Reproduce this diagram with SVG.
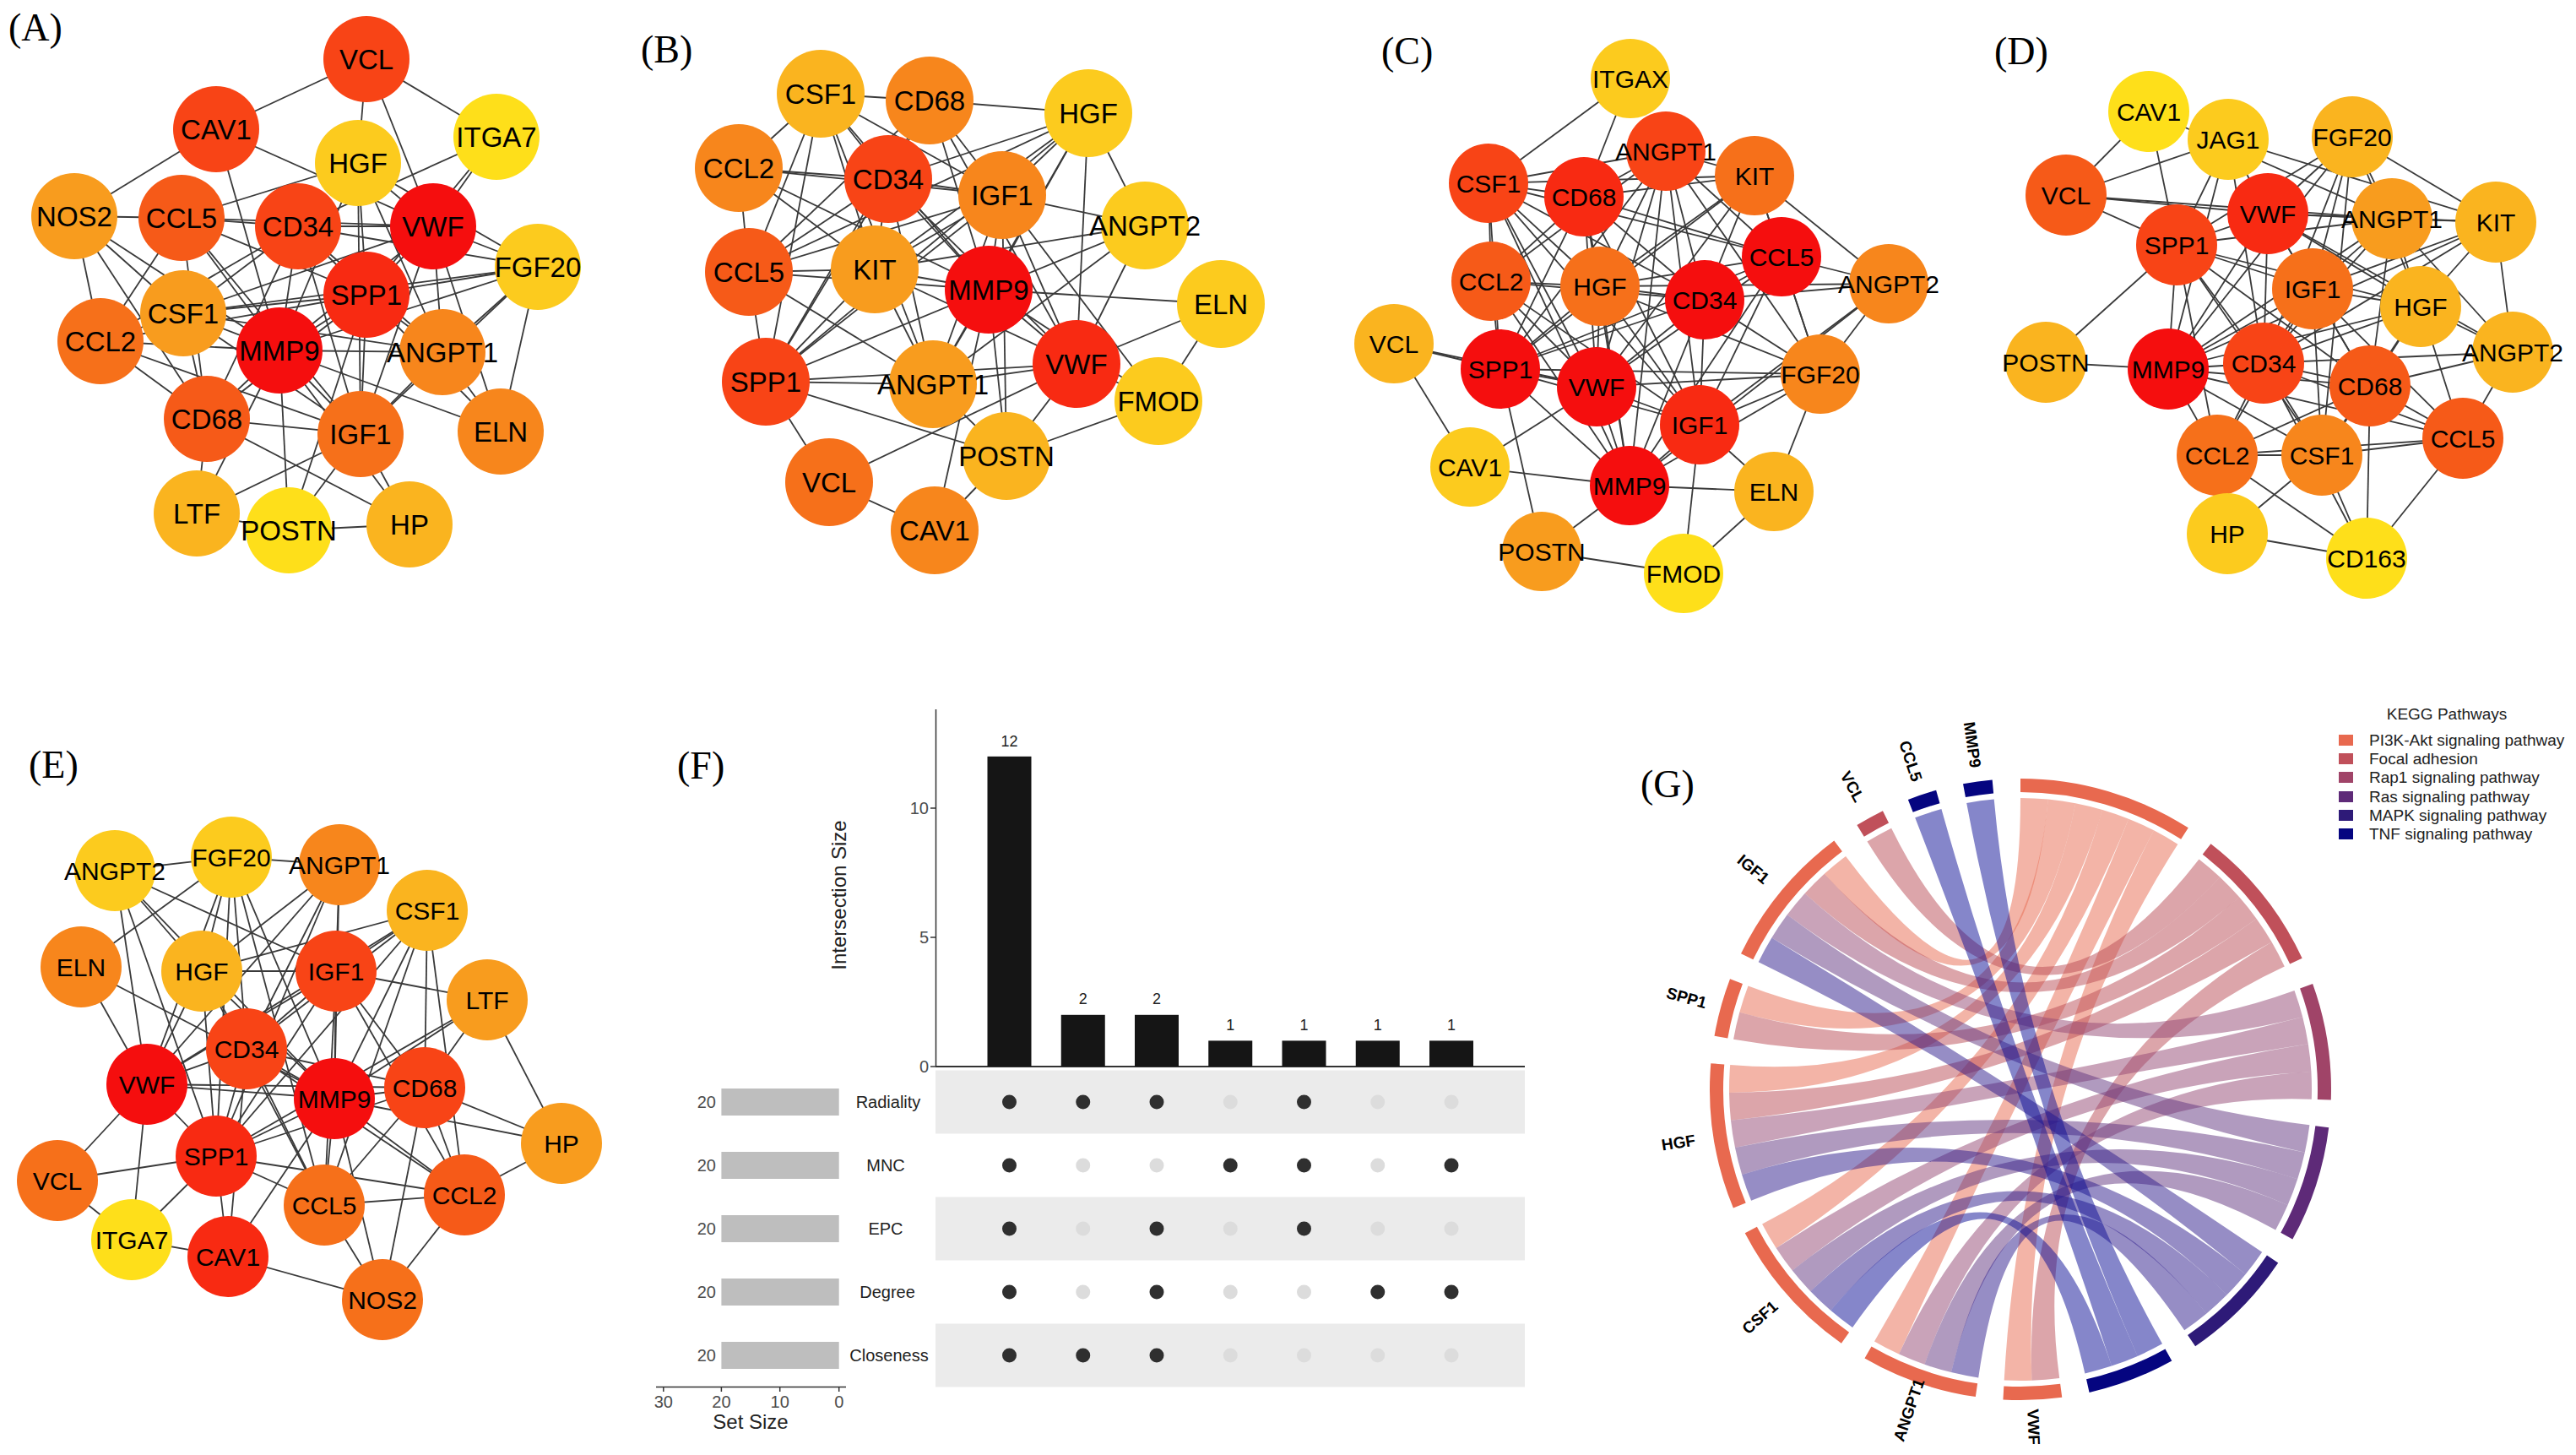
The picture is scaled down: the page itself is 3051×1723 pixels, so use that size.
<svg xmlns="http://www.w3.org/2000/svg" width="3051" height="1723" viewBox="0 0 3051 1723">
<style>
.pl{font-family:"Liberation Serif","Times New Roman",serif;font-size:46px;fill:#000}
.e line{stroke:#3a3a3a;stroke-width:1.8}
.t33{font-family:"Liberation Sans",Arial,sans-serif;font-size:33px;fill:#000;text-anchor:middle}
.t30{font-family:"Liberation Sans",Arial,sans-serif;font-size:30px;fill:#000;text-anchor:middle}
.c1{fill:#F50E0E}.c2{fill:#F82A12}.c3{fill:#F84416}.c4{fill:#F65A18}.c5{fill:#F6701A}.c6{fill:#F7861C}.c7{fill:#F89C1E}.c8{fill:#FAB41F}.c9{fill:#FCCB1E}.c10{fill:#FEDF1A}
.ax{font-family:"Liberation Sans",Arial,sans-serif;font-size:20px;fill:#4d4d4d}
.rl{font-family:"Liberation Sans",Arial,sans-serif;font-size:20px;fill:#222;text-anchor:middle}
.bl{font-family:"Liberation Sans",Arial,sans-serif;font-size:18px;fill:#222;text-anchor:middle}
.tt{font-family:"Liberation Sans",Arial,sans-serif;font-size:24px;fill:#222;text-anchor:middle}
.dk{fill:#2f2f2f}.lt{fill:#dcdcdc}
.gl{font-family:"Liberation Sans",Arial,sans-serif;font-size:19px;font-weight:bold;fill:#000;text-anchor:middle}
.lg{font-family:"Liberation Sans",Arial,sans-serif;font-size:19px;fill:#222}
.k1{fill:#E8694F}.k2{fill:#BA4C56}.k3{fill:#934773}.k4{fill:#61357F}.k5{fill:#2D1C8C}.k6{fill:#0B0E96}
.chords path{fill-opacity:0.5}
.trk path{fill:none;stroke-width:16}
.s1{stroke:#E8694F}.s2{stroke:#C0505A}.s3{stroke:#A04468}.s4{stroke:#5E2A78}.s5{stroke:#2E1A78}.s6{stroke:#050580}
</style>
<rect width="3051" height="1723" fill="#fff"/>

<!-- Panel labels -->
<text class="pl" x="10" y="48">(A)</text>
<text class="pl" x="759" y="74">(B)</text>
<text class="pl" x="1636" y="76">(C)</text>
<text class="pl" x="2362" y="76">(D)</text>
<text class="pl" x="34" y="921">(E)</text>
<text class="pl" x="802" y="922">(F)</text>
<text class="pl" x="1943" y="944">(G)</text>

<!-- ===== Panel A ===== -->
<g id="edges-A" class="e">
<line x1="434" y1="70" x2="256" y2="153"/><line x1="434" y1="70" x2="588" y2="162"/><line x1="434" y1="70" x2="424" y2="193"/><line x1="434" y1="70" x2="513" y2="268"/>
<line x1="256" y1="153" x2="88" y2="256"/><line x1="256" y1="153" x2="513" y2="268"/><line x1="256" y1="153" x2="331" y2="415"/>
<line x1="588" y1="162" x2="513" y2="268"/><line x1="588" y1="162" x2="353" y2="268"/><line x1="588" y1="162" x2="434" y2="349"/>
<line x1="424" y1="193" x2="215" y2="258"/><line x1="424" y1="193" x2="434" y2="349"/><line x1="424" y1="193" x2="331" y2="415"/><line x1="424" y1="193" x2="513" y2="268"/><line x1="424" y1="193" x2="524" y2="417"/><line x1="424" y1="193" x2="427" y2="514"/><line x1="424" y1="193" x2="637" y2="316"/>
<line x1="88" y1="256" x2="215" y2="258"/><line x1="88" y1="256" x2="119" y2="404"/><line x1="88" y1="256" x2="217" y2="371"/><line x1="88" y1="256" x2="331" y2="415"/><line x1="88" y1="256" x2="245" y2="496"/>
<line x1="215" y1="258" x2="353" y2="268"/><line x1="215" y1="258" x2="119" y2="404"/><line x1="215" y1="258" x2="331" y2="415"/><line x1="215" y1="258" x2="434" y2="349"/><line x1="215" y1="258" x2="245" y2="496"/><line x1="215" y1="258" x2="427" y2="514"/><line x1="215" y1="258" x2="513" y2="268"/>
<line x1="353" y1="268" x2="513" y2="268"/><line x1="353" y1="268" x2="434" y2="349"/><line x1="353" y1="268" x2="331" y2="415"/><line x1="353" y1="268" x2="217" y2="371"/><line x1="353" y1="268" x2="637" y2="316"/><line x1="353" y1="268" x2="524" y2="417"/><line x1="353" y1="268" x2="427" y2="514"/><line x1="353" y1="268" x2="245" y2="496"/><line x1="353" y1="268" x2="119" y2="404"/>
<line x1="513" y1="268" x2="434" y2="349"/><line x1="513" y1="268" x2="637" y2="316"/><line x1="513" y1="268" x2="524" y2="417"/><line x1="513" y1="268" x2="331" y2="415"/><line x1="513" y1="268" x2="427" y2="514"/><line x1="513" y1="268" x2="217" y2="371"/><line x1="513" y1="268" x2="593" y2="511"/>
<line x1="637" y1="316" x2="434" y2="349"/><line x1="637" y1="316" x2="524" y2="417"/><line x1="637" y1="316" x2="593" y2="511"/><line x1="637" y1="316" x2="331" y2="415"/><line x1="637" y1="316" x2="217" y2="371"/><line x1="637" y1="316" x2="427" y2="514"/>
<line x1="434" y1="349" x2="331" y2="415"/><line x1="434" y1="349" x2="217" y2="371"/><line x1="434" y1="349" x2="524" y2="417"/><line x1="434" y1="349" x2="427" y2="514"/><line x1="434" y1="349" x2="245" y2="496"/><line x1="434" y1="349" x2="119" y2="404"/><line x1="434" y1="349" x2="342" y2="628"/><line x1="434" y1="349" x2="593" y2="511"/>
<line x1="217" y1="371" x2="331" y2="415"/><line x1="217" y1="371" x2="119" y2="404"/><line x1="217" y1="371" x2="245" y2="496"/><line x1="217" y1="371" x2="427" y2="514"/><line x1="217" y1="371" x2="524" y2="417"/>
<line x1="119" y1="404" x2="331" y2="415"/><line x1="119" y1="404" x2="245" y2="496"/><line x1="119" y1="404" x2="427" y2="514"/>
<line x1="331" y1="415" x2="524" y2="417"/><line x1="331" y1="415" x2="245" y2="496"/><line x1="331" y1="415" x2="427" y2="514"/><line x1="331" y1="415" x2="233" y2="608"/><line x1="331" y1="415" x2="342" y2="628"/><line x1="331" y1="415" x2="485" y2="621"/><line x1="331" y1="415" x2="593" y2="511"/>
<line x1="524" y1="417" x2="427" y2="514"/><line x1="524" y1="417" x2="593" y2="511"/>
<line x1="245" y1="496" x2="427" y2="514"/><line x1="245" y1="496" x2="233" y2="608"/><line x1="245" y1="496" x2="485" y2="621"/>
<line x1="427" y1="514" x2="233" y2="608"/><line x1="427" y1="514" x2="342" y2="628"/><line x1="427" y1="514" x2="485" y2="621"/>
<line x1="233" y1="608" x2="342" y2="628"/><line x1="342" y1="628" x2="485" y2="621"/>
</g>
<g id="A-VCL"><circle class="c3" cx="434" cy="70" r="51"/><text class="t33" x="434" y="82">VCL</text></g>
<g id="A-CAV1"><circle class="c3" cx="256" cy="153" r="51"/><text class="t33" x="256" y="165">CAV1</text></g>
<g id="A-HGF"><circle class="c9" cx="424" cy="193" r="51"/><text class="t33" x="424" y="205">HGF</text></g>
<g id="A-ITGA7"><circle class="c10" cx="588" cy="162" r="51"/><text class="t33" x="588" y="174">ITGA7</text></g>
<g id="A-NOS2"><circle class="c7" cx="88" cy="256" r="51"/><text class="t33" x="88" y="268">NOS2</text></g>
<g id="A-CCL5"><circle class="c4" cx="215" cy="258" r="51"/><text class="t33" x="215" y="270">CCL5</text></g>
<g id="A-CD34"><circle class="c3" cx="353" cy="268" r="51"/><text class="t33" x="353" y="280">CD34</text></g>
<g id="A-VWF"><circle class="c1" cx="513" cy="268" r="51"/><text class="t33" x="513" y="280">VWF</text></g>
<g id="A-FGF20"><circle class="c9" cx="637" cy="316" r="51"/><text class="t33" x="637" y="328">FGF20</text></g>
<g id="A-SPP1"><circle class="c2" cx="434" cy="349" r="51"/><text class="t33" x="434" y="361">SPP1</text></g>
<g id="A-CSF1"><circle class="c7" cx="217" cy="371" r="51"/><text class="t33" x="217" y="383">CSF1</text></g>
<g id="A-CCL2"><circle class="c5" cx="119" cy="404" r="51"/><text class="t33" x="119" y="416">CCL2</text></g>
<g id="A-MMP9"><circle class="c1" cx="331" cy="415" r="51"/><text class="t33" x="331" y="427">MMP9</text></g>
<g id="A-ANGPT1"><circle class="c6" cx="524" cy="417" r="51"/><text class="t33" x="524" y="429">ANGPT1</text></g>
<g id="A-ELN"><circle class="c6" cx="593" cy="511" r="51"/><text class="t33" x="593" y="523">ELN</text></g>
<g id="A-CD68"><circle class="c4" cx="245" cy="496" r="51"/><text class="t33" x="245" y="508">CD68</text></g>
<g id="A-IGF1"><circle class="c5" cx="427" cy="514" r="51"/><text class="t33" x="427" y="526">IGF1</text></g>
<g id="A-LTF"><circle class="c8" cx="233" cy="608" r="51"/><text class="t33" x="233" y="620">LTF</text></g>
<g id="A-POSTN"><circle class="c10" cx="342" cy="628" r="51"/><text class="t33" x="342" y="640">POSTN</text></g>
<g id="A-HP"><circle class="c8" cx="485" cy="621" r="51"/><text class="t33" x="485" y="633">HP</text></g>

<!-- ===== Panel B ===== -->
<g id="edges-B" class="e">
<line x1="972" y1="111" x2="1101" y2="119"/><line x1="972" y1="111" x2="875" y2="199"/><line x1="972" y1="111" x2="1052" y2="212"/><line x1="972" y1="111" x2="1187" y2="231"/><line x1="972" y1="111" x2="887" y2="322"/><line x1="972" y1="111" x2="907" y2="452"/><line x1="972" y1="111" x2="1036" y2="319"/><line x1="972" y1="111" x2="1171" y2="343"/><line x1="972" y1="111" x2="1105" y2="455"/>
<line x1="1101" y1="119" x2="1289" y2="134"/><line x1="1101" y1="119" x2="1052" y2="212"/><line x1="1101" y1="119" x2="1187" y2="231"/><line x1="1101" y1="119" x2="1171" y2="343"/><line x1="1101" y1="119" x2="887" y2="322"/><line x1="1101" y1="119" x2="1275" y2="431"/><line x1="1101" y1="119" x2="907" y2="452"/>
<line x1="1289" y1="134" x2="1052" y2="212"/><line x1="1289" y1="134" x2="1187" y2="231"/><line x1="1289" y1="134" x2="1036" y2="319"/><line x1="1289" y1="134" x2="887" y2="322"/><line x1="1289" y1="134" x2="1171" y2="343"/><line x1="1289" y1="134" x2="1275" y2="431"/><line x1="1289" y1="134" x2="1356" y2="267"/><line x1="1289" y1="134" x2="907" y2="452"/><line x1="1289" y1="134" x2="1105" y2="455"/>
<line x1="875" y1="199" x2="1052" y2="212"/><line x1="875" y1="199" x2="1187" y2="231"/><line x1="875" y1="199" x2="887" y2="322"/><line x1="875" y1="199" x2="1171" y2="343"/><line x1="875" y1="199" x2="1036" y2="319"/>
<line x1="1052" y1="212" x2="1187" y2="231"/><line x1="1052" y1="212" x2="1171" y2="343"/><line x1="1052" y1="212" x2="1275" y2="431"/><line x1="1052" y1="212" x2="887" y2="322"/><line x1="1052" y1="212" x2="907" y2="452"/><line x1="1052" y1="212" x2="1036" y2="319"/><line x1="1052" y1="212" x2="1105" y2="455"/>
<line x1="1187" y1="231" x2="1356" y2="267"/><line x1="1187" y1="231" x2="1171" y2="343"/><line x1="1187" y1="231" x2="1275" y2="431"/><line x1="1187" y1="231" x2="1036" y2="319"/><line x1="1187" y1="231" x2="887" y2="322"/><line x1="1187" y1="231" x2="907" y2="452"/><line x1="1187" y1="231" x2="1105" y2="455"/><line x1="1187" y1="231" x2="1372" y2="475"/><line x1="1187" y1="231" x2="1192" y2="540"/>
<line x1="1356" y1="267" x2="1171" y2="343"/><line x1="1356" y1="267" x2="1275" y2="431"/><line x1="1356" y1="267" x2="1036" y2="319"/><line x1="1356" y1="267" x2="1105" y2="455"/>
<line x1="887" y1="322" x2="1036" y2="319"/><line x1="887" y1="322" x2="907" y2="452"/><line x1="887" y1="322" x2="1171" y2="343"/><line x1="887" y1="322" x2="1105" y2="455"/>
<line x1="1036" y1="319" x2="1171" y2="343"/><line x1="1036" y1="319" x2="907" y2="452"/><line x1="1036" y1="319" x2="1105" y2="455"/><line x1="1036" y1="319" x2="1275" y2="431"/>
<line x1="1171" y1="343" x2="1275" y2="431"/><line x1="1171" y1="343" x2="907" y2="452"/><line x1="1171" y1="343" x2="1105" y2="455"/><line x1="1171" y1="343" x2="1446" y2="360"/><line x1="1171" y1="343" x2="1192" y2="540"/><line x1="1171" y1="343" x2="1107" y2="628"/><line x1="1171" y1="343" x2="1372" y2="475"/>
<line x1="1446" y1="360" x2="1275" y2="431"/><line x1="1446" y1="360" x2="1372" y2="475"/>
<line x1="907" y1="452" x2="1105" y2="455"/><line x1="907" y1="452" x2="1275" y2="431"/><line x1="907" y1="452" x2="982" y2="571"/><line x1="907" y1="452" x2="1192" y2="540"/>
<line x1="1105" y1="455" x2="1275" y2="431"/><line x1="1105" y1="455" x2="1192" y2="540"/>
<line x1="1275" y1="431" x2="1192" y2="540"/><line x1="1275" y1="431" x2="1372" y2="475"/><line x1="1275" y1="431" x2="982" y2="571"/>
<line x1="1372" y1="475" x2="1192" y2="540"/><line x1="982" y1="571" x2="1107" y2="628"/><line x1="1107" y1="628" x2="1192" y2="540"/>
</g>
<g id="B-CSF1"><circle class="c8" cx="972" cy="111" r="52"/><text class="t33" x="972" y="123">CSF1</text></g>
<g id="B-CD68"><circle class="c6" cx="1101" cy="119" r="52"/><text class="t33" x="1101" y="131">CD68</text></g>
<g id="B-HGF"><circle class="c9" cx="1289" cy="134" r="52"/><text class="t33" x="1289" y="146">HGF</text></g>
<g id="B-CCL2"><circle class="c6" cx="875" cy="199" r="52"/><text class="t33" x="875" y="211">CCL2</text></g>
<g id="B-CD34"><circle class="c3" cx="1052" cy="212" r="52"/><text class="t33" x="1052" y="224">CD34</text></g>
<g id="B-IGF1"><circle class="c6" cx="1187" cy="231" r="52"/><text class="t33" x="1187" y="243">IGF1</text></g>
<g id="B-ANGPT2"><circle class="c9" cx="1356" cy="267" r="52"/><text class="t33" x="1356" y="279">ANGPT2</text></g>
<g id="B-CCL5"><circle class="c4" cx="887" cy="322" r="52"/><text class="t33" x="887" y="334">CCL5</text></g>
<g id="B-KIT"><circle class="c7" cx="1036" cy="319" r="52"/><text class="t33" x="1036" y="331">KIT</text></g>
<g id="B-MMP9"><circle class="c1" cx="1171" cy="343" r="52"/><text class="t33" x="1171" y="355">MMP9</text></g>
<g id="B-ELN"><circle class="c9" cx="1446" cy="360" r="52"/><text class="t33" x="1446" y="372">ELN</text></g>
<g id="B-SPP1"><circle class="c3" cx="907" cy="452" r="52"/><text class="t33" x="907" y="464">SPP1</text></g>
<g id="B-ANGPT1"><circle class="c7" cx="1105" cy="455" r="52"/><text class="t33" x="1105" y="467">ANGPT1</text></g>
<g id="B-VWF"><circle class="c2" cx="1275" cy="431" r="52"/><text class="t33" x="1275" y="443">VWF</text></g>
<g id="B-FMOD"><circle class="c9" cx="1372" cy="475" r="52"/><text class="t33" x="1372" y="487">FMOD</text></g>
<g id="B-POSTN"><circle class="c8" cx="1192" cy="540" r="52"/><text class="t33" x="1192" y="552">POSTN</text></g>
<g id="B-VCL"><circle class="c5" cx="982" cy="571" r="52"/><text class="t33" x="982" y="583">VCL</text></g>
<g id="B-CAV1"><circle class="c6" cx="1107" cy="628" r="52"/><text class="t33" x="1107" y="640">CAV1</text></g>

<!-- ===== Panel C ===== -->
<g id="edges-C" class="e">
<line x1="1931" y1="93" x2="1763" y2="217"/><line x1="1931" y1="93" x2="1876" y2="233"/>
<line x1="1973" y1="179" x2="2078" y2="208"/><line x1="1973" y1="179" x2="1763" y2="217"/><line x1="1973" y1="179" x2="1876" y2="233"/><line x1="1973" y1="179" x2="1895" y2="339"/><line x1="1973" y1="179" x2="2019" y2="355"/><line x1="1973" y1="179" x2="2110" y2="304"/><line x1="1973" y1="179" x2="1777" y2="437"/><line x1="1973" y1="179" x2="1891" y2="458"/><line x1="1973" y1="179" x2="2013" y2="503"/><line x1="1973" y1="179" x2="1930" y2="575"/><line x1="1973" y1="179" x2="1766" y2="333"/><line x1="1973" y1="179" x2="2156" y2="443"/>
<line x1="2078" y1="208" x2="1876" y2="233"/><line x1="2078" y1="208" x2="1763" y2="217"/><line x1="2078" y1="208" x2="2110" y2="304"/><line x1="2078" y1="208" x2="2237" y2="336"/><line x1="2078" y1="208" x2="2019" y2="355"/><line x1="2078" y1="208" x2="1895" y2="339"/><line x1="2078" y1="208" x2="1891" y2="458"/><line x1="2078" y1="208" x2="2156" y2="443"/><line x1="2078" y1="208" x2="1777" y2="437"/>
<line x1="1763" y1="217" x2="1876" y2="233"/><line x1="1763" y1="217" x2="1766" y2="333"/><line x1="1763" y1="217" x2="1895" y2="339"/><line x1="1763" y1="217" x2="2019" y2="355"/><line x1="1763" y1="217" x2="1777" y2="437"/><line x1="1763" y1="217" x2="1891" y2="458"/><line x1="1763" y1="217" x2="1930" y2="575"/><line x1="1763" y1="217" x2="2013" y2="503"/><line x1="1763" y1="217" x2="2110" y2="304"/>
<line x1="1876" y1="233" x2="1895" y2="339"/><line x1="1876" y1="233" x2="2019" y2="355"/><line x1="1876" y1="233" x2="2110" y2="304"/><line x1="1876" y1="233" x2="1766" y2="333"/><line x1="1876" y1="233" x2="1777" y2="437"/><line x1="1876" y1="233" x2="1891" y2="458"/><line x1="1876" y1="233" x2="1930" y2="575"/><line x1="1876" y1="233" x2="2013" y2="503"/>
<line x1="2110" y1="304" x2="2019" y2="355"/><line x1="2110" y1="304" x2="2237" y2="336"/><line x1="2110" y1="304" x2="1895" y2="339"/><line x1="2110" y1="304" x2="2013" y2="503"/><line x1="2110" y1="304" x2="1930" y2="575"/><line x1="2110" y1="304" x2="2156" y2="443"/><line x1="2110" y1="304" x2="1777" y2="437"/><line x1="2110" y1="304" x2="1891" y2="458"/>
<line x1="2237" y1="336" x2="2019" y2="355"/><line x1="2237" y1="336" x2="2156" y2="443"/><line x1="2237" y1="336" x2="2013" y2="503"/><line x1="2237" y1="336" x2="1930" y2="575"/><line x1="2237" y1="336" x2="1895" y2="339"/>
<line x1="1766" y1="333" x2="1895" y2="339"/><line x1="1766" y1="333" x2="2019" y2="355"/><line x1="1766" y1="333" x2="1777" y2="437"/><line x1="1766" y1="333" x2="1891" y2="458"/><line x1="1766" y1="333" x2="1930" y2="575"/><line x1="1766" y1="333" x2="2013" y2="503"/>
<line x1="1895" y1="339" x2="2019" y2="355"/><line x1="1895" y1="339" x2="1777" y2="437"/><line x1="1895" y1="339" x2="1891" y2="458"/><line x1="1895" y1="339" x2="1930" y2="575"/><line x1="1895" y1="339" x2="2013" y2="503"/><line x1="1895" y1="339" x2="2156" y2="443"/>
<line x1="2019" y1="355" x2="1777" y2="437"/><line x1="2019" y1="355" x2="1891" y2="458"/><line x1="2019" y1="355" x2="1930" y2="575"/><line x1="2019" y1="355" x2="2013" y2="503"/><line x1="2019" y1="355" x2="2156" y2="443"/>
<line x1="1651" y1="407" x2="1777" y2="437"/><line x1="1651" y1="407" x2="1741" y2="553"/><line x1="1651" y1="407" x2="1891" y2="458"/>
<line x1="1777" y1="437" x2="1891" y2="458"/><line x1="1777" y1="437" x2="1930" y2="575"/><line x1="1777" y1="437" x2="2013" y2="503"/><line x1="1777" y1="437" x2="2156" y2="443"/><line x1="1777" y1="437" x2="1826" y2="653"/>
<line x1="1891" y1="458" x2="1930" y2="575"/><line x1="1891" y1="458" x2="2013" y2="503"/><line x1="1891" y1="458" x2="2156" y2="443"/><line x1="1891" y1="458" x2="1741" y2="553"/>
<line x1="2156" y1="443" x2="2013" y2="503"/><line x1="2156" y1="443" x2="1930" y2="575"/><line x1="2156" y1="443" x2="2101" y2="582"/>
<line x1="2013" y1="503" x2="1930" y2="575"/><line x1="2013" y1="503" x2="2101" y2="582"/><line x1="2013" y1="503" x2="1994" y2="679"/>
<line x1="1741" y1="553" x2="1930" y2="575"/><line x1="1930" y1="575" x2="2101" y2="582"/><line x1="1930" y1="575" x2="1826" y2="653"/>
<line x1="2101" y1="582" x2="1994" y2="679"/><line x1="1826" y1="653" x2="1994" y2="679"/>
</g>
<g id="C-ITGAX"><circle class="c9" cx="1931" cy="93" r="47"/><text class="t30" x="1931" y="104">ITGAX</text></g>
<g id="C-ANGPT1"><circle class="c3" cx="1973" cy="179" r="47"/><text class="t30" x="1973" y="190">ANGPT1</text></g>
<g id="C-KIT"><circle class="c5" cx="2078" cy="208" r="47"/><text class="t30" x="2078" y="219">KIT</text></g>
<g id="C-CSF1"><circle class="c3" cx="1763" cy="217" r="47"/><text class="t30" x="1763" y="228">CSF1</text></g>
<g id="C-CD68"><circle class="c2" cx="1876" cy="233" r="47"/><text class="t30" x="1876" y="244">CD68</text></g>
<g id="C-CCL5"><circle class="c1" cx="2110" cy="304" r="47"/><text class="t30" x="2110" y="315">CCL5</text></g>
<g id="C-ANGPT2"><circle class="c6" cx="2237" cy="336" r="47"/><text class="t30" x="2237" y="347">ANGPT2</text></g>
<g id="C-CCL2"><circle class="c4" cx="1766" cy="333" r="47"/><text class="t30" x="1766" y="344">CCL2</text></g>
<g id="C-HGF"><circle class="c5" cx="1895" cy="339" r="47"/><text class="t30" x="1895" y="350">HGF</text></g>
<g id="C-CD34"><circle class="c1" cx="2019" cy="355" r="47"/><text class="t30" x="2019" y="366">CD34</text></g>
<g id="C-VCL"><circle class="c8" cx="1651" cy="407" r="47"/><text class="t30" x="1651" y="418">VCL</text></g>
<g id="C-SPP1"><circle class="c1" cx="1777" cy="437" r="47"/><text class="t30" x="1777" y="448">SPP1</text></g>
<g id="C-VWF"><circle class="c1" cx="1891" cy="458" r="47"/><text class="t30" x="1891" y="469">VWF</text></g>
<g id="C-FGF20"><circle class="c6" cx="2156" cy="443" r="47"/><text class="t30" x="2156" y="454">FGF20</text></g>
<g id="C-IGF1"><circle class="c2" cx="2013" cy="503" r="47"/><text class="t30" x="2013" y="514">IGF1</text></g>
<g id="C-CAV1"><circle class="c9" cx="1741" cy="553" r="47"/><text class="t30" x="1741" y="564">CAV1</text></g>
<g id="C-MMP9"><circle class="c1" cx="1930" cy="575" r="47"/><text class="t30" x="1930" y="586">MMP9</text></g>
<g id="C-ELN"><circle class="c8" cx="2101" cy="582" r="47"/><text class="t30" x="2101" y="593">ELN</text></g>
<g id="C-POSTN"><circle class="c7" cx="1826" cy="653" r="47"/><text class="t30" x="1826" y="664">POSTN</text></g>
<g id="C-FMOD"><circle class="c10" cx="1994" cy="679" r="47"/><text class="t30" x="1994" y="690">FMOD</text></g>

<!-- ===== Panel D ===== -->
<g id="edges-D" class="e">
<line x1="2545" y1="132" x2="2447" y2="231"/><line x1="2545" y1="132" x2="2578" y2="290"/><line x1="2545" y1="132" x2="2833" y2="259"/>
<line x1="2639" y1="165" x2="2447" y2="231"/><line x1="2639" y1="165" x2="2578" y2="290"/><line x1="2639" y1="165" x2="2568" y2="437"/><line x1="2639" y1="165" x2="2686" y2="253"/><line x1="2639" y1="165" x2="2956" y2="263"/><line x1="2639" y1="165" x2="2681" y2="430"/>
<line x1="2786" y1="162" x2="2686" y2="253"/><line x1="2786" y1="162" x2="2578" y2="290"/><line x1="2786" y1="162" x2="2833" y2="259"/><line x1="2786" y1="162" x2="2956" y2="263"/><line x1="2786" y1="162" x2="2739" y2="342"/><line x1="2786" y1="162" x2="2568" y2="437"/><line x1="2786" y1="162" x2="2681" y2="430"/><line x1="2786" y1="162" x2="2750" y2="539"/><line x1="2786" y1="162" x2="2867" y2="363"/>
<line x1="2447" y1="231" x2="2686" y2="253"/><line x1="2447" y1="231" x2="2578" y2="290"/><line x1="2447" y1="231" x2="2833" y2="259"/>
<line x1="2686" y1="253" x2="2578" y2="290"/><line x1="2686" y1="253" x2="2833" y2="259"/><line x1="2686" y1="253" x2="2739" y2="342"/><line x1="2686" y1="253" x2="2568" y2="437"/><line x1="2686" y1="253" x2="2681" y2="430"/><line x1="2686" y1="253" x2="2867" y2="363"/><line x1="2686" y1="253" x2="2976" y2="417"/><line x1="2686" y1="253" x2="2807" y2="457"/><line x1="2686" y1="253" x2="2956" y2="263"/>
<line x1="2833" y1="259" x2="2956" y2="263"/><line x1="2833" y1="259" x2="2739" y2="342"/><line x1="2833" y1="259" x2="2867" y2="363"/><line x1="2833" y1="259" x2="2976" y2="417"/><line x1="2833" y1="259" x2="2681" y2="430"/><line x1="2833" y1="259" x2="2568" y2="437"/><line x1="2833" y1="259" x2="2578" y2="290"/><line x1="2833" y1="259" x2="2807" y2="457"/>
<line x1="2956" y1="263" x2="2867" y2="363"/><line x1="2956" y1="263" x2="2976" y2="417"/><line x1="2956" y1="263" x2="2681" y2="430"/><line x1="2956" y1="263" x2="2568" y2="437"/><line x1="2956" y1="263" x2="2739" y2="342"/>
<line x1="2578" y1="290" x2="2568" y2="437"/><line x1="2578" y1="290" x2="2739" y2="342"/><line x1="2578" y1="290" x2="2681" y2="430"/><line x1="2578" y1="290" x2="2867" y2="363"/><line x1="2578" y1="290" x2="2807" y2="457"/><line x1="2578" y1="290" x2="2423" y2="429"/><line x1="2578" y1="290" x2="2626" y2="539"/><line x1="2578" y1="290" x2="2750" y2="539"/>
<line x1="2739" y1="342" x2="2867" y2="363"/><line x1="2739" y1="342" x2="2568" y2="437"/><line x1="2739" y1="342" x2="2681" y2="430"/><line x1="2739" y1="342" x2="2807" y2="457"/><line x1="2739" y1="342" x2="2750" y2="539"/><line x1="2739" y1="342" x2="2917" y2="519"/><line x1="2739" y1="342" x2="2626" y2="539"/>
<line x1="2867" y1="363" x2="2976" y2="417"/><line x1="2867" y1="363" x2="2681" y2="430"/><line x1="2867" y1="363" x2="2568" y2="437"/><line x1="2867" y1="363" x2="2807" y2="457"/><line x1="2867" y1="363" x2="2917" y2="519"/><line x1="2867" y1="363" x2="2750" y2="539"/>
<line x1="2976" y1="417" x2="2807" y2="457"/><line x1="2976" y1="417" x2="2917" y2="519"/><line x1="2976" y1="417" x2="2681" y2="430"/>
<line x1="2423" y1="429" x2="2568" y2="437"/>
<line x1="2568" y1="437" x2="2681" y2="430"/><line x1="2568" y1="437" x2="2807" y2="457"/><line x1="2568" y1="437" x2="2626" y2="539"/><line x1="2568" y1="437" x2="2750" y2="539"/><line x1="2568" y1="437" x2="2917" y2="519"/>
<line x1="2681" y1="430" x2="2807" y2="457"/><line x1="2681" y1="430" x2="2626" y2="539"/><line x1="2681" y1="430" x2="2750" y2="539"/><line x1="2681" y1="430" x2="2917" y2="519"/><line x1="2681" y1="430" x2="2803" y2="661"/>
<line x1="2807" y1="457" x2="2917" y2="519"/><line x1="2807" y1="457" x2="2750" y2="539"/><line x1="2807" y1="457" x2="2626" y2="539"/><line x1="2807" y1="457" x2="2803" y2="661"/>
<line x1="2917" y1="519" x2="2750" y2="539"/><line x1="2917" y1="519" x2="2803" y2="661"/><line x1="2917" y1="519" x2="2626" y2="539"/>
<line x1="2626" y1="539" x2="2750" y2="539"/><line x1="2626" y1="539" x2="2803" y2="661"/>
<line x1="2750" y1="539" x2="2638" y2="632"/><line x1="2750" y1="539" x2="2803" y2="661"/><line x1="2638" y1="632" x2="2803" y2="661"/>
</g>
<g id="D-CAV1"><circle class="c10" cx="2545" cy="132" r="48"/><text class="t30" x="2545" y="143">CAV1</text></g>
<g id="D-JAG1"><circle class="c9" cx="2639" cy="165" r="48"/><text class="t30" x="2639" y="176">JAG1</text></g>
<g id="D-FGF20"><circle class="c8" cx="2786" cy="162" r="48"/><text class="t30" x="2786" y="173">FGF20</text></g>
<g id="D-VCL"><circle class="c4" cx="2447" cy="231" r="48"/><text class="t30" x="2447" y="242">VCL</text></g>
<g id="D-VWF"><circle class="c2" cx="2686" cy="253" r="48"/><text class="t30" x="2686" y="264">VWF</text></g>
<g id="D-ANGPT1"><circle class="c7" cx="2833" cy="259" r="48"/><text class="t30" x="2833" y="270">ANGPT1</text></g>
<g id="D-KIT"><circle class="c8" cx="2956" cy="263" r="48"/><text class="t30" x="2956" y="274">KIT</text></g>
<g id="D-SPP1"><circle class="c3" cx="2578" cy="290" r="48"/><text class="t30" x="2578" y="301">SPP1</text></g>
<g id="D-IGF1"><circle class="c5" cx="2739" cy="342" r="48"/><text class="t30" x="2739" y="353">IGF1</text></g>
<g id="D-HGF"><circle class="c8" cx="2867" cy="363" r="48"/><text class="t30" x="2867" y="374">HGF</text></g>
<g id="D-ANGPT2"><circle class="c8" cx="2976" cy="417" r="48"/><text class="t30" x="2976" y="428">ANGPT2</text></g>
<g id="D-POSTN"><circle class="c8" cx="2423" cy="429" r="48"/><text class="t30" x="2423" y="440">POSTN</text></g>
<g id="D-MMP9"><circle class="c1" cx="2568" cy="437" r="48"/><text class="t30" x="2568" y="448">MMP9</text></g>
<g id="D-CD34"><circle class="c3" cx="2681" cy="430" r="48"/><text class="t30" x="2681" y="441">CD34</text></g>
<g id="D-CD68"><circle class="c4" cx="2807" cy="457" r="48"/><text class="t30" x="2807" y="468">CD68</text></g>
<g id="D-CCL5"><circle class="c4" cx="2917" cy="519" r="48"/><text class="t30" x="2917" y="530">CCL5</text></g>
<g id="D-CCL2"><circle class="c5" cx="2626" cy="539" r="48"/><text class="t30" x="2626" y="550">CCL2</text></g>
<g id="D-CSF1"><circle class="c6" cx="2750" cy="539" r="48"/><text class="t30" x="2750" y="550">CSF1</text></g>
<g id="D-HP"><circle class="c9" cx="2638" cy="632" r="48"/><text class="t30" x="2638" y="643">HP</text></g>
<g id="D-CD163"><circle class="c10" cx="2803" cy="661" r="48"/><text class="t30" x="2803" y="672">CD163</text></g>

<!-- ===== Panel E ===== -->
<g id="edges-E" class="e">
<line x1="136" y1="1031" x2="274" y2="1015"/><line x1="136" y1="1031" x2="239" y2="1150"/><line x1="136" y1="1031" x2="174" y2="1284"/><line x1="136" y1="1031" x2="398" y2="1150"/><line x1="136" y1="1031" x2="256" y2="1369"/><line x1="136" y1="1031" x2="396" y2="1301"/>
<line x1="274" y1="1015" x2="402" y2="1024"/><line x1="274" y1="1015" x2="239" y2="1150"/><line x1="274" y1="1015" x2="96" y2="1145"/><line x1="274" y1="1015" x2="292" y2="1242"/><line x1="274" y1="1015" x2="256" y2="1369"/><line x1="274" y1="1015" x2="396" y2="1301"/><line x1="274" y1="1015" x2="174" y2="1284"/><line x1="274" y1="1015" x2="384" y2="1427"/>
<line x1="402" y1="1024" x2="398" y2="1150"/><line x1="402" y1="1024" x2="239" y2="1150"/><line x1="402" y1="1024" x2="174" y2="1284"/><line x1="402" y1="1024" x2="292" y2="1242"/><line x1="402" y1="1024" x2="256" y2="1369"/><line x1="402" y1="1024" x2="396" y2="1301"/>
<line x1="506" y1="1078" x2="398" y2="1150"/><line x1="506" y1="1078" x2="239" y2="1150"/><line x1="506" y1="1078" x2="292" y2="1242"/><line x1="506" y1="1078" x2="396" y2="1301"/><line x1="506" y1="1078" x2="174" y2="1284"/><line x1="506" y1="1078" x2="256" y2="1369"/><line x1="506" y1="1078" x2="503" y2="1288"/><line x1="506" y1="1078" x2="550" y2="1415"/><line x1="506" y1="1078" x2="384" y2="1427"/>
<line x1="96" y1="1145" x2="174" y2="1284"/><line x1="96" y1="1145" x2="396" y2="1301"/>
<line x1="239" y1="1150" x2="398" y2="1150"/><line x1="239" y1="1150" x2="292" y2="1242"/><line x1="239" y1="1150" x2="174" y2="1284"/><line x1="239" y1="1150" x2="256" y2="1369"/><line x1="239" y1="1150" x2="396" y2="1301"/><line x1="239" y1="1150" x2="384" y2="1427"/>
<line x1="398" y1="1150" x2="577" y2="1184"/><line x1="398" y1="1150" x2="292" y2="1242"/><line x1="398" y1="1150" x2="396" y2="1301"/><line x1="398" y1="1150" x2="174" y2="1284"/><line x1="398" y1="1150" x2="256" y2="1369"/><line x1="398" y1="1150" x2="503" y2="1288"/><line x1="398" y1="1150" x2="550" y2="1415"/><line x1="398" y1="1150" x2="384" y2="1427"/>
<line x1="577" y1="1184" x2="396" y2="1301"/><line x1="577" y1="1184" x2="665" y2="1354"/><line x1="577" y1="1184" x2="256" y2="1369"/><line x1="577" y1="1184" x2="503" y2="1288"/>
<line x1="292" y1="1242" x2="174" y2="1284"/><line x1="292" y1="1242" x2="396" y2="1301"/><line x1="292" y1="1242" x2="256" y2="1369"/><line x1="292" y1="1242" x2="503" y2="1288"/><line x1="292" y1="1242" x2="270" y2="1488"/><line x1="292" y1="1242" x2="550" y2="1415"/><line x1="292" y1="1242" x2="384" y2="1427"/>
<line x1="174" y1="1284" x2="396" y2="1301"/><line x1="174" y1="1284" x2="256" y2="1369"/><line x1="174" y1="1284" x2="68" y2="1398"/><line x1="174" y1="1284" x2="156" y2="1468"/><line x1="174" y1="1284" x2="503" y2="1288"/>
<line x1="396" y1="1301" x2="503" y2="1288"/><line x1="396" y1="1301" x2="256" y2="1369"/><line x1="396" y1="1301" x2="384" y2="1427"/><line x1="396" y1="1301" x2="550" y2="1415"/><line x1="396" y1="1301" x2="270" y2="1488"/><line x1="396" y1="1301" x2="453" y2="1539"/><line x1="396" y1="1301" x2="665" y2="1354"/>
<line x1="503" y1="1288" x2="665" y2="1354"/><line x1="503" y1="1288" x2="550" y2="1415"/><line x1="503" y1="1288" x2="384" y2="1427"/><line x1="503" y1="1288" x2="453" y2="1539"/><line x1="503" y1="1288" x2="256" y2="1369"/>
<line x1="256" y1="1369" x2="68" y2="1398"/><line x1="256" y1="1369" x2="156" y2="1468"/><line x1="256" y1="1369" x2="270" y2="1488"/><line x1="256" y1="1369" x2="384" y2="1427"/><line x1="256" y1="1369" x2="550" y2="1415"/>
<line x1="68" y1="1398" x2="156" y2="1468"/><line x1="384" y1="1427" x2="550" y2="1415"/><line x1="384" y1="1427" x2="453" y2="1539"/><line x1="550" y1="1415" x2="453" y2="1539"/><line x1="550" y1="1415" x2="665" y2="1354"/><line x1="156" y1="1468" x2="270" y2="1488"/><line x1="270" y1="1488" x2="453" y2="1539"/>
</g>
<g id="E-ANGPT2"><circle class="c9" cx="136" cy="1031" r="48"/><text class="t30" x="136" y="1042">ANGPT2</text></g>
<g id="E-FGF20"><circle class="c9" cx="274" cy="1015" r="48"/><text class="t30" x="274" y="1026">FGF20</text></g>
<g id="E-ANGPT1"><circle class="c6" cx="402" cy="1024" r="48"/><text class="t30" x="402" y="1035">ANGPT1</text></g>
<g id="E-CSF1"><circle class="c8" cx="506" cy="1078" r="48"/><text class="t30" x="506" y="1089">CSF1</text></g>
<g id="E-ELN"><circle class="c6" cx="96" cy="1145" r="48"/><text class="t30" x="96" y="1156">ELN</text></g>
<g id="E-HGF"><circle class="c8" cx="239" cy="1150" r="48"/><text class="t30" x="239" y="1161">HGF</text></g>
<g id="E-IGF1"><circle class="c3" cx="398" cy="1150" r="48"/><text class="t30" x="398" y="1161">IGF1</text></g>
<g id="E-LTF"><circle class="c7" cx="577" cy="1184" r="48"/><text class="t30" x="577" y="1195">LTF</text></g>
<g id="E-CD34"><circle class="c3" cx="292" cy="1242" r="48"/><text class="t30" x="292" y="1253">CD34</text></g>
<g id="E-VWF"><circle class="c1" cx="174" cy="1284" r="48"/><text class="t30" x="174" y="1295">VWF</text></g>
<g id="E-MMP9"><circle class="c1" cx="396" cy="1301" r="48"/><text class="t30" x="396" y="1312">MMP9</text></g>
<g id="E-CD68"><circle class="c3" cx="503" cy="1288" r="48"/><text class="t30" x="503" y="1299">CD68</text></g>
<g id="E-HP"><circle class="c7" cx="665" cy="1354" r="48"/><text class="t30" x="665" y="1365">HP</text></g>
<g id="E-SPP1"><circle class="c2" cx="256" cy="1369" r="48"/><text class="t30" x="256" y="1380">SPP1</text></g>
<g id="E-VCL"><circle class="c5" cx="68" cy="1398" r="48"/><text class="t30" x="68" y="1409">VCL</text></g>
<g id="E-CCL5"><circle class="c5" cx="384" cy="1427" r="48"/><text class="t30" x="384" y="1438">CCL5</text></g>
<g id="E-CCL2"><circle class="c4" cx="550" cy="1415" r="48"/><text class="t30" x="550" y="1426">CCL2</text></g>
<g id="E-ITGA7"><circle class="c10" cx="156" cy="1468" r="48"/><text class="t30" x="156" y="1479">ITGA7</text></g>
<g id="E-CAV1"><circle class="c2" cx="270" cy="1488" r="48"/><text class="t30" x="270" y="1499">CAV1</text></g>
<g id="E-NOS2"><circle class="c5" cx="453" cy="1539" r="48"/><text class="t30" x="453" y="1550">NOS2</text></g>

<!-- ===== Panel F (UpSet) ===== -->
<g id="F-plot">
<rect x="1108" y="1267.5" width="698" height="75" fill="#ebebeb"/>
<rect x="1108" y="1417.5" width="698" height="75" fill="#ebebeb"/>
<rect x="1108" y="1567.5" width="698" height="75" fill="#ebebeb"/>
<line x1="1108.5" y1="840" x2="1108.5" y2="1263" stroke="#333" stroke-width="1.5"/>
<line x1="1108" y1="1263" x2="1806" y2="1263" stroke="#333" stroke-width="2"/>
<g stroke="#333" stroke-width="1.5"><line x1="1102" y1="957" x2="1108" y2="957"/><line x1="1102" y1="1110" x2="1108" y2="1110"/><line x1="1102" y1="1263" x2="1108" y2="1263"/></g>
<text class="ax" x="1100" y="964" text-anchor="end">10</text>
<text class="ax" x="1100" y="1117" text-anchor="end">5</text>
<text class="ax" x="1100" y="1270" text-anchor="end">0</text>
<text class="tt" transform="translate(1002,1060) rotate(-90)">Intersection Size</text>
<g fill="#151515">
<rect x="1169.5" y="895.8" width="52" height="367.2"/>
<rect x="1256.75" y="1201.8" width="52" height="61.2"/>
<rect x="1344" y="1201.8" width="52" height="61.2"/>
<rect x="1431.25" y="1232.4" width="52" height="30.6"/>
<rect x="1518.5" y="1232.4" width="52" height="30.6"/>
<rect x="1605.75" y="1232.4" width="52" height="30.6"/>
<rect x="1693" y="1232.4" width="52" height="30.6"/>
</g>
<text class="bl" x="1195.5" y="884">12</text>
<text class="bl" x="1282.75" y="1189">2</text>
<text class="bl" x="1370" y="1189">2</text>
<text class="bl" x="1457.25" y="1220">1</text>
<text class="bl" x="1544.5" y="1220">1</text>
<text class="bl" x="1631.75" y="1220">1</text>
<text class="bl" x="1719" y="1220">1</text>
<!-- matrix dots -->
<circle class="dk" cx="1195.5" cy="1305" r="8.5"/><circle class="dk" cx="1282.75" cy="1305" r="8.5"/><circle class="dk" cx="1370" cy="1305" r="8.5"/><circle class="lt" cx="1457.25" cy="1305" r="8.5"/><circle class="dk" cx="1544.5" cy="1305" r="8.5"/><circle class="lt" cx="1631.75" cy="1305" r="8.5"/><circle class="lt" cx="1719" cy="1305" r="8.5"/>
<circle class="dk" cx="1195.5" cy="1380" r="8.5"/><circle class="lt" cx="1282.75" cy="1380" r="8.5"/><circle class="lt" cx="1370" cy="1380" r="8.5"/><circle class="dk" cx="1457.25" cy="1380" r="8.5"/><circle class="dk" cx="1544.5" cy="1380" r="8.5"/><circle class="lt" cx="1631.75" cy="1380" r="8.5"/><circle class="dk" cx="1719" cy="1380" r="8.5"/>
<circle class="dk" cx="1195.5" cy="1455" r="8.5"/><circle class="lt" cx="1282.75" cy="1455" r="8.5"/><circle class="dk" cx="1370" cy="1455" r="8.5"/><circle class="lt" cx="1457.25" cy="1455" r="8.5"/><circle class="dk" cx="1544.5" cy="1455" r="8.5"/><circle class="lt" cx="1631.75" cy="1455" r="8.5"/><circle class="lt" cx="1719" cy="1455" r="8.5"/>
<circle class="dk" cx="1195.5" cy="1530" r="8.5"/><circle class="lt" cx="1282.75" cy="1530" r="8.5"/><circle class="dk" cx="1370" cy="1530" r="8.5"/><circle class="lt" cx="1457.25" cy="1530" r="8.5"/><circle class="lt" cx="1544.5" cy="1530" r="8.5"/><circle class="dk" cx="1631.75" cy="1530" r="8.5"/><circle class="dk" cx="1719" cy="1530" r="8.5"/>
<circle class="dk" cx="1195.5" cy="1605" r="8.5"/><circle class="dk" cx="1282.75" cy="1605" r="8.5"/><circle class="dk" cx="1370" cy="1605" r="8.5"/><circle class="lt" cx="1457.25" cy="1605" r="8.5"/><circle class="lt" cx="1544.5" cy="1605" r="8.5"/><circle class="lt" cx="1631.75" cy="1605" r="8.5"/><circle class="lt" cx="1719" cy="1605" r="8.5"/>
<!-- set size bars -->
<g fill="#bebebe">
<rect x="854.4" y="1289" width="139.3" height="32"/>
<rect x="854.4" y="1364" width="139.3" height="32"/>
<rect x="854.4" y="1439" width="139.3" height="32"/>
<rect x="854.4" y="1514" width="139.3" height="32"/>
<rect x="854.4" y="1589" width="139.3" height="32"/>
</g>
<text class="ax" x="848" y="1312" text-anchor="end" fill="#333">20</text>
<text class="ax" x="848" y="1387" text-anchor="end">20</text>
<text class="ax" x="848" y="1462" text-anchor="end">20</text>
<text class="ax" x="848" y="1537" text-anchor="end">20</text>
<text class="ax" x="848" y="1612" text-anchor="end">20</text>
<text class="rl" x="1052" y="1312">Radiality</text>
<text class="rl" x="1049" y="1387">MNC</text>
<text class="rl" x="1049" y="1462">EPC</text>
<text class="rl" x="1051" y="1537">Degree</text>
<text class="rl" x="1053" y="1612">Closeness</text>
<line x1="777" y1="1642.6" x2="1002" y2="1642.6" stroke="#333" stroke-width="1.5"/>
<g stroke="#333" stroke-width="1.5"><line x1="785.8" y1="1642.6" x2="785.8" y2="1648"/><line x1="854.4" y1="1642.6" x2="854.4" y2="1648"/><line x1="923.7" y1="1642.6" x2="923.7" y2="1648"/><line x1="993.7" y1="1642.6" x2="993.7" y2="1648"/></g>
<text class="ax" x="785.8" y="1667" text-anchor="middle">30</text>
<text class="ax" x="854.4" y="1667" text-anchor="middle">20</text>
<text class="ax" x="923.7" y="1667" text-anchor="middle">10</text>
<text class="ax" x="993.7" y="1667" text-anchor="middle">0</text>
<text class="tt" x="889" y="1692">Set Size</text>
</g>

<!-- ===== Panel G (chord) ===== -->
<g id="G-chords" class="chords">
<path class="k1" d="M2393,945 A345,345 0 0 1 2425.8,946.6 Q2393,1290 2160.8,1034.8 A345,345 0 0 1 2186.1,1013.9 Q2393,1290 2393,945 Z"/>
<path class="k1" d="M2425.8,946.6 A345,345 0 0 1 2458.2,951.2 Q2393,1290 2060.3,1198.7 A345,345 0 0 1 2070.5,1167.5 Q2393,1290 2425.8,946.6 Z"/>
<path class="k1" d="M2458.2,951.2 A345,345 0 0 1 2490.1,959 Q2393,1290 2048,1293.9 A345,345 0 0 1 2049.2,1261.1 Q2393,1290 2458.2,951.2 Z"/>
<path class="k1" d="M2490.1,959 A345,345 0 0 1 2521.1,969.7 Q2393,1290 2103.7,1477.9 A345,345 0 0 1 2087.1,1449.5 Q2393,1290 2490.1,959 Z"/>
<path class="k1" d="M2521.1,969.7 A345,345 0 0 1 2551,983.3 Q2393,1290 2249.1,1603.6 A345,345 0 0 1 2220,1588.5 Q2393,1290 2521.1,969.7 Z"/>
<path class="k1" d="M2551,983.3 A345,345 0 0 1 2579.4,999.7 Q2393,1290 2406.5,1634.7 A345,345 0 0 1 2373.7,1634.5 Q2393,1290 2551,983.3 Z"/>
<path class="k2" d="M2604.5,1017.4 A345,345 0 0 1 2629.4,1038.7 Q2393,1290 2211.5,996.6 A345,345 0 0 1 2240.1,980.7 Q2393,1290 2604.5,1017.4 Z"/>
<path class="k2" d="M2629.4,1038.7 A345,345 0 0 1 2652.2,1062.3 Q2393,1290 2137.6,1058 A345,345 0 0 1 2160.8,1034.8 Q2393,1290 2629.4,1038.7 Z"/>
<path class="k2" d="M2652.2,1062.3 A345,345 0 0 1 2672.6,1087.9 Q2393,1290 2053.1,1230.7 A345,345 0 0 1 2060.3,1198.7 Q2393,1290 2652.2,1062.3 Z"/>
<path class="k2" d="M2672.6,1087.9 A345,345 0 0 1 2690.6,1115.4 Q2393,1290 2050,1326.7 A345,345 0 0 1 2048,1293.9 Q2393,1290 2672.6,1087.9 Z"/>
<path class="k2" d="M2690.6,1115.4 A345,345 0 0 1 2705.8,1144.5 Q2393,1290 2439.2,1631.9 A345,345 0 0 1 2406.5,1634.7 Q2393,1290 2690.6,1115.4 Z"/>
<path class="k3" d="M2717.5,1172.9 A345,345 0 0 1 2727.2,1204.2 Q2393,1290 2116.7,1083.3 A345,345 0 0 1 2137.6,1058 Q2393,1290 2717.5,1172.9 Z"/>
<path class="k3" d="M2727.2,1204.2 A345,345 0 0 1 2733.8,1236.3 Q2393,1290 2055,1359.1 A345,345 0 0 1 2050,1326.7 Q2393,1290 2727.2,1204.2 Z"/>
<path class="k3" d="M2733.8,1236.3 A345,345 0 0 1 2737.4,1268.9 Q2393,1290 2122.8,1504.5 A345,345 0 0 1 2103.7,1477.9 Q2393,1290 2733.8,1236.3 Z"/>
<path class="k3" d="M2737.4,1268.9 A345,345 0 0 1 2737.8,1301.7 Q2393,1290 2279.5,1615.8 A345,345 0 0 1 2249.1,1603.6 Q2393,1290 2737.4,1268.9 Z"/>
<path class="k4" d="M2735.4,1332.3 A345,345 0 0 1 2729.8,1364.7 Q2393,1290 2098.4,1110.5 A345,345 0 0 1 2116.7,1083.3 Q2393,1290 2735.4,1332.3 Z"/>
<path class="k4" d="M2729.8,1364.7 A345,345 0 0 1 2721.2,1396.3 Q2393,1290 2063.1,1390.9 A345,345 0 0 1 2055,1359.1 Q2393,1290 2729.8,1364.7 Z"/>
<path class="k4" d="M2721.2,1396.3 A345,345 0 0 1 2709.6,1427 Q2393,1290 2144.4,1529.2 A345,345 0 0 1 2122.8,1504.5 Q2393,1290 2721.2,1396.3 Z"/>
<path class="k4" d="M2709.6,1427 A345,345 0 0 1 2695.2,1456.5 Q2393,1290 2311,1625.1 A345,345 0 0 1 2279.5,1615.8 Q2393,1290 2709.6,1427 Z"/>
<path class="k5" d="M2679.2,1482.7 A345,345 0 0 1 2659.6,1509 Q2393,1290 2082.7,1139.3 A345,345 0 0 1 2098.4,1110.5 Q2393,1290 2679.2,1482.7 Z"/>
<path class="k5" d="M2659.6,1509 A345,345 0 0 1 2637.6,1533.3 Q2393,1290 2074.1,1421.7 A345,345 0 0 1 2063.1,1390.9 Q2393,1290 2659.6,1509 Z"/>
<path class="k5" d="M2637.6,1533.3 A345,345 0 0 1 2613.4,1555.4 Q2393,1290 2168.2,1551.7 A345,345 0 0 1 2144.4,1529.2 Q2393,1290 2637.6,1533.3 Z"/>
<path class="k5" d="M2613.4,1555.4 A345,345 0 0 1 2587.2,1575.2 Q2393,1290 2343.2,1631.4 A345,345 0 0 1 2311,1625.1 Q2393,1290 2613.4,1555.4 Z"/>
<path class="k6" d="M2561,1591.3 A345,345 0 0 1 2531.7,1605.9 Q2393,1290 2329.2,950.9 A345,345 0 0 1 2361.7,946.4 Q2393,1290 2561,1591.3 Z"/>
<path class="k6" d="M2531.7,1605.9 A345,345 0 0 1 2501,1617.6 Q2393,1290 2268.2,968.3 A345,345 0 0 1 2299.4,958 Q2393,1290 2531.7,1605.9 Z"/>
<path class="k6" d="M2501,1617.6 A345,345 0 0 1 2469.4,1626.4 Q2393,1290 2194.1,1571.9 A345,345 0 0 1 2168.2,1551.7 Q2393,1290 2501,1617.6 Z"/>
</g>
<g id="G-track" class="trk">
<path class="s1" d="M2393,930 A360,360 0 0 1 2587.5,987.1"/>
<path class="s2" d="M2613.6,1005.5 A360,360 0 0 1 2719.4,1138.1"/>
<path class="s3" d="M2731.6,1167.8 A360,360 0 0 1 2752.8,1302.2"/>
<path class="s4" d="M2750.3,1334.2 A360,360 0 0 1 2708.3,1463.7"/>
<path class="s5" d="M2691.6,1491 A360,360 0 0 1 2595.6,1587.6"/>
<path class="s6" d="M2568.4,1604.4 A360,360 0 0 1 2472.8,1641.1"/>
<path class="s1" d="M2441.2,1646.8 A360,360 0 0 1 2372.9,1649.4"/>
<path class="s1" d="M2341,1646.2 A360,360 0 0 1 2212.5,1601.5"/>
<path class="s1" d="M2185.5,1584.2 A360,360 0 0 1 2073.8,1456.5"/>
<path class="s1" d="M2060.3,1427.5 A360,360 0 0 1 2034.3,1259.9"/>
<path class="s1" d="M2038.4,1228.1 A360,360 0 0 1 2056.5,1162.2"/>
<path class="s1" d="M2069.2,1132.8 A360,360 0 0 1 2177.1,1001.9"/>
<path class="s2" d="M2203.6,983.9 A360,360 0 0 1 2233.5,967.3"/>
<path class="s6" d="M2262.8,954.4 A360,360 0 0 1 2295.3,943.5"/>
<path class="s6" d="M2326.5,936.2 A360,360 0 0 1 2360.4,931.5"/>
</g>
<g id="G-labels">
<text class="gl" transform="translate(2408.7,1689.7) rotate(87.75)" dy="0.35em">VWF</text>
<text class="gl" transform="translate(2260.8,1669.6) rotate(-70.8)" dy="0.35em">ANGPT1</text>
<text class="gl" transform="translate(2084.4,1559.9) rotate(-41.17)" dy="0.35em">CSF1</text>
<text class="gl" transform="translate(1987.9,1352.9) rotate(-8.83)" dy="0.35em">HGF</text>
<text class="gl" transform="translate(1997.6,1181.5) rotate(15.35)" dy="0.35em">SPP1</text>
<text class="gl" transform="translate(2076.7,1029.1) rotate(39.53)" dy="0.35em">IGF1</text>
<text class="gl" transform="translate(2194.1,931.5) rotate(60.98)" dy="0.35em">VCL</text>
<text class="gl" transform="translate(2263.1,901.1) rotate(71.53)" dy="0.35em">CCL5</text>
<text class="gl" transform="translate(2336.2,881.9) rotate(82.08)" dy="0.35em">MMP9</text>
</g>
<g id="G-legend">
<text class="lg" x="2898" y="852" text-anchor="middle">KEGG Pathways</text>
<rect x="2770" y="870" width="17" height="13" fill="#E8694F"/>
<rect x="2770" y="892" width="17" height="13" fill="#C0505A"/>
<rect x="2770" y="914" width="17" height="13" fill="#A04468"/>
<rect x="2770" y="937" width="17" height="13" fill="#5E2A78"/>
<rect x="2770" y="959" width="17" height="13" fill="#2E1A78"/>
<rect x="2770" y="981" width="17" height="13" fill="#050580"/>
<text class="lg" x="2806" y="883">PI3K-Akt signaling pathway</text>
<text class="lg" x="2806" y="905">Focal adhesion</text>
<text class="lg" x="2806" y="927">Rap1 signaling pathway</text>
<text class="lg" x="2806" y="950">Ras signaling pathway</text>
<text class="lg" x="2806" y="972">MAPK signaling pathway</text>
<text class="lg" x="2806" y="994">TNF signaling pathway</text>
</g>
</svg>
